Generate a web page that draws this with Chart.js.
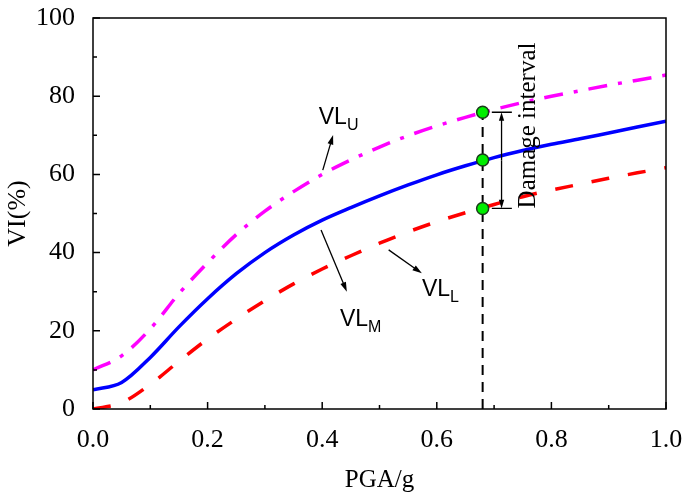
<!DOCTYPE html>
<html lang="en">
<head>
<meta charset="UTF-8">
<title>VI - PGA</title>
<script src="https://cdn.jsdelivr.net/npm/chart.js"></script>
<style>
  body { margin: 0; background: #fff; }
  .wrap { width: 685px; height: 499px; }
</style>
</head>
<body>
<div class="wrap"><canvas id="viChart" width="685" height="499"></canvas></div>
<script>
// PGA values (g) read along the x axis
const pga = [0, 0.05, 0.1, 0.15, 0.2, 0.25, 0.3, 0.35, 0.4, 0.45, 0.5,
             0.55, 0.6, 0.65, 0.7, 0.75, 0.8, 0.85, 0.9, 0.95, 1.0];
// VI (%) curves
const vlU = [10.0, 13.6, 20.5, 29.5, 37.4, 44.6, 50.6, 55.6, 60.0, 63.7, 67.0,
             69.9, 72.4, 74.6, 76.6, 78.4, 80.0, 81.4, 82.8, 84.1, 85.4];
const vlM = [4.9, 6.8, 13.2, 21.0, 28.2, 34.6, 40.0, 44.5, 48.3, 51.5, 54.5,
             57.3, 59.9, 62.2, 64.3, 66.1, 67.7, 69.1, 70.6, 72.1, 73.6];
const vlL = [0.0, 1.6, 6.3, 12.2, 17.9, 23.0, 27.7, 32.0, 35.8, 39.2, 42.4,
             45.3, 47.9, 50.2, 52.3, 54.3, 56.0, 57.5, 59.0, 60.4, 61.7];
// marked PGA and the three VI values on it
const pgaMark = 0.68;
const markVI = [75.9, 63.7, 51.3];

const serif = '"Liberation Serif", "Times New Roman", serif';
const sans = '"Liberation Sans", Arial, sans-serif';

// annotation placement, in data units
const notes = [
  { main: 'VL', sub: 'U', x: 0.394, y: 73.0, from: [0.401, 61.1], to: [0.419, 70.1] },
  { main: 'VL', sub: 'M', x: 0.431, y: 21.1, from: [0.398, 45.8], to: [0.443, 30.0] },
  { main: 'VL', sub: 'L', x: 0.574, y: 28.8, from: [0.516, 40.7], to: [0.574, 34.7] }
];
const bracket = { x0: 0.696, x1: 0.731, xm: 0.713, textX: 0.771 };

function arrow(ctx, x1, y1, x2, y2, head) {
    const ang = Math.atan2(y2 - y1, x2 - x1);
    ctx.beginPath();
    ctx.moveTo(x1, y1);
    ctx.lineTo(x2 - Math.cos(ang) * head * 0.8, y2 - Math.sin(ang) * head * 0.8);
    ctx.stroke();
    ctx.beginPath();
    ctx.moveTo(x2, y2);
    ctx.lineTo(x2 - head * Math.cos(ang - 0.3), y2 - head * Math.sin(ang - 0.3));
    ctx.lineTo(x2 - head * Math.cos(ang + 0.3), y2 - head * Math.sin(ang + 0.3));
    ctx.closePath();
    ctx.fill();
}

const decor = {
    id: 'decor',
    afterDraw(chart) {
        const { ctx, chartArea: a, scales: { x, y } } = chart;
        ctx.save();
        ctx.strokeStyle = '#000';
        ctx.fillStyle = '#000';
        ctx.lineWidth = 1.5;
        ctx.strokeRect(a.left, a.top, a.right - a.left, a.bottom - a.top);

        // inward ticks, major and minor
        ctx.beginPath();
        for (let i = 0; i <= 10; i++) {
            const px = x.getPixelForValue(i / 10);
            const len = i % 2 === 0 ? 7 : 4;
            ctx.moveTo(px, a.bottom);
            ctx.lineTo(px, a.bottom - len);
            const py = y.getPixelForValue(i * 10);
            ctx.moveTo(a.left, py);
            ctx.lineTo(a.left + len, py);
        }
        ctx.stroke();

        // curve labels with arrows
        ctx.lineWidth = 1.3;
        notes.forEach(n => {
            arrow(ctx, x.getPixelForValue(n.from[0]), y.getPixelForValue(n.from[1]),
                  x.getPixelForValue(n.to[0]), y.getPixelForValue(n.to[1]), 10);
            const lx = x.getPixelForValue(n.x);
            const ly = y.getPixelForValue(n.y);
            ctx.textBaseline = 'alphabetic';
            ctx.textAlign = 'left';
            ctx.font = '23px ' + sans;
            ctx.fillText(n.main, lx, ly);
            const w = ctx.measureText(n.main).width;
            ctx.font = '16px ' + sans;
            ctx.fillText(n.sub, lx + w, ly + 6);
        });

        // damage interval bracket
        const yt = y.getPixelForValue(markVI[0]);
        const yb = y.getPixelForValue(markVI[2]);
        const bx0 = x.getPixelForValue(bracket.x0);
        const bx1 = x.getPixelForValue(bracket.x1);
        const bxm = x.getPixelForValue(bracket.xm);
        ctx.beginPath();
        ctx.moveTo(bx0, yt); ctx.lineTo(bx1, yt);
        ctx.moveTo(bx0, yb); ctx.lineTo(bx1, yb);
        ctx.stroke();
        arrow(ctx, bxm, (yt + yb) / 2, bxm, yt, 9);
        arrow(ctx, bxm, (yt + yb) / 2, bxm, yb, 9);

        ctx.translate(x.getPixelForValue(bracket.textX), yb);
        ctx.rotate(-Math.PI / 2);
        ctx.font = '25px ' + serif;
        ctx.textAlign = 'left';
        ctx.textBaseline = 'alphabetic';
        ctx.fillText('Damage interval', 0, 0);
        ctx.restore();
    }
};

const toXY = vals => vals.map((v, i) => ({ x: pga[i], y: v }));

new Chart(document.getElementById('viChart'), {
    type: 'line',
    data: {
        datasets: [
            {
                label: 'marks',
                type: 'scatter',
                data: markVI.map(v => ({ x: pgaMark, y: v })),
                pointRadius: 6,
                pointBackgroundColor: '#00ee00',
                pointBorderColor: '#1a3a1a',
                pointBorderWidth: 1.5,
                order: 0
            },
            {
                label: 'PGA line',
                data: [{ x: pgaMark, y: 0 }, { x: pgaMark, y: markVI[0] }],
                borderColor: '#000',
                borderWidth: 2,
                borderDash: [10, 7],
                pointRadius: 0,
                order: 1
            },
            {
                label: 'VLU',
                data: toXY(vlU),
                borderColor: '#ff00ff',
                borderWidth: 3.5,
                borderDash: [19, 11, 4, 11],
                pointRadius: 0,
                cubicInterpolationMode: 'monotone',
                order: 2
            },
            {
                label: 'VLM',
                data: toXY(vlM),
                borderColor: '#0000ff',
                borderWidth: 3.5,
                pointRadius: 0,
                cubicInterpolationMode: 'monotone',
                order: 2
            },
            {
                label: 'VLL',
                data: toXY(vlL),
                borderColor: '#ff0000',
                borderWidth: 3.5,
                borderDash: [18, 19],
                pointRadius: 0,
                cubicInterpolationMode: 'monotone',
                order: 2
            }
        ]
    },
    options: {
        responsive: false,
        animation: false,
        layout: { padding: { top: 18, right: 19, left: 0, bottom: 0 } },
        plugins: { legend: { display: false }, tooltip: { enabled: false } },
        scales: {
            x: {
                type: 'linear',
                min: 0,
                max: 1,
                grid: { display: false },
                border: { display: false },
                ticks: {
                    stepSize: 0.2,
                    color: '#000',
                    padding: 8,
                    font: { family: serif, size: 26 },
                    callback: v => v.toFixed(1)
                },
                title: {
                    display: true,
                    text: 'PGA/g',
                    color: '#000',
                    font: { family: serif, size: 25 },
                    padding: { top: 0, bottom: 4 }
                },
                afterFit: s => { s.height = 90; s.paddingLeft = 0; s.paddingRight = 0; }
            },
            y: {
                min: 0,
                max: 100,
                grid: { display: false },
                border: { display: false },
                ticks: {
                    stepSize: 20,
                    color: '#000',
                    padding: 10,
                    font: { family: serif, size: 26 }
                },
                title: {
                    display: true,
                    text: 'VI(%)',
                    color: '#000',
                    font: { family: serif, size: 26 },
                    padding: { top: 3, bottom: 0 }
                },
                afterFit: s => { s.width = 93; s.paddingTop = 0; s.paddingBottom = 0; }
            }
        }
    },
    plugins: [decor]
});
</script>
</body>
</html>
